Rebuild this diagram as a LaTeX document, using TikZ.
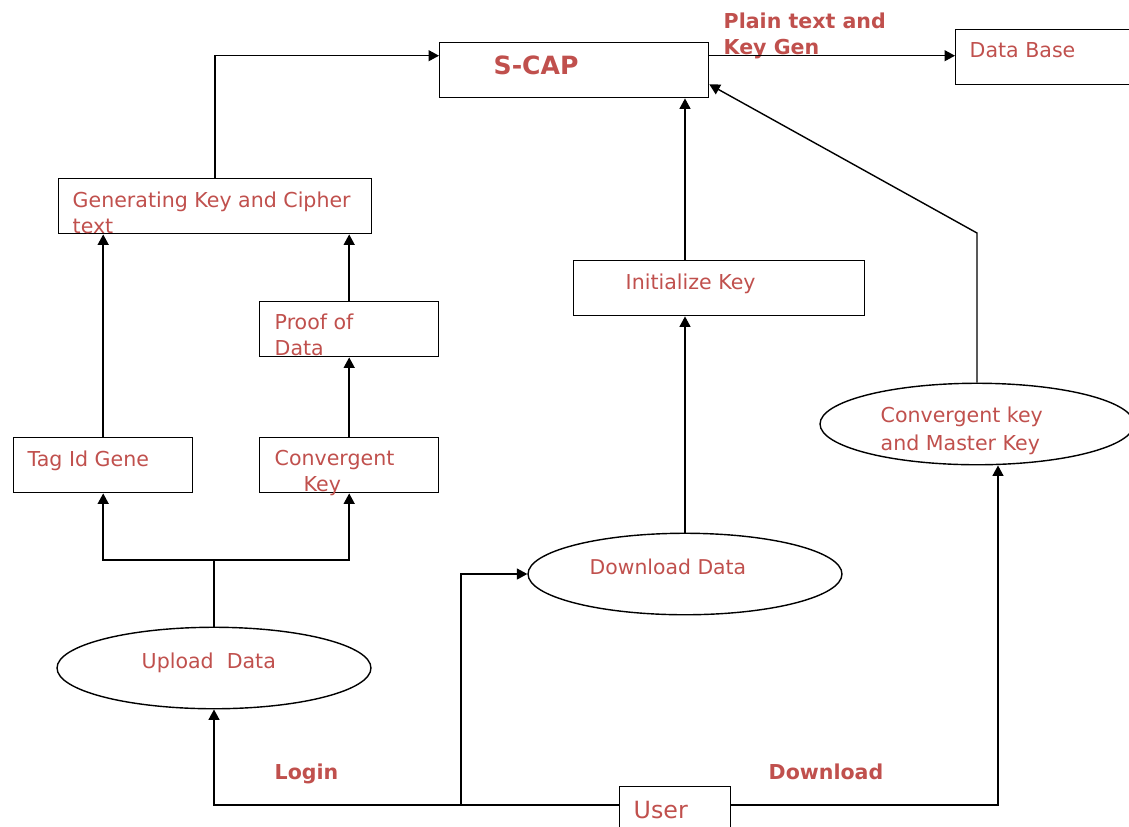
\documentclass[tikz,border=0pt]{standalone}
\usepackage{fontspec}
\setmainfont{DejaVu Sans}
\usetikzlibrary{arrows.meta,shapes.geometric}
\definecolor{txtred}{RGB}{192,80,77}
\begin{document}
\begin{tikzpicture}[x=0.02cm,y=-0.02cm,line width=0.8pt,
  % common options for the boxes:
  block/.style = {draw, rectangle, anchor=north west, inner sep=0,
              minimum height=1.1cm},
  % common options for the ellipses:
  oval/.style = {draw, ellipse, inner sep=0, minimum width=6.28cm,
              minimum height=1.63cm},
  % common options for the texts:
  lbl/.style = {text=txtred, align=left, anchor=base west, inner sep=0,
              font=\fontsize{11.7}{14.8}\selectfont},
  bold/.style = {lbl, font=\fontsize{11.7}{14.8}\selectfont\bfseries},
  >={Triangle[length=2.1mm,width=2.2mm]}]
\useasboundingbox (0,0) rectangle (1129,826);
% boxes
\node[block,minimum width=5.38cm] (scap) at (439,42) {};
\node[block,minimum width=4cm] (db) at (955,29) {};
\node[block,minimum width=6.26cm] (gen) at (58,178) {};
\node[block,minimum width=3.58cm] (proof) at (259,301) {};
\node[block,minimum width=3.58cm] (tag) at (13,437) {};
\node[block,minimum width=3.58cm] (conv) at (259,437) {};
\node[block,minimum width=5.82cm] (init) at (573,260) {};
\node[block,minimum width=2.22cm,minimum height=1.3cm] (user) at (619,786) {};
% ellipses
\node[oval] (upload) at (214,668) {};
\node[oval] (down) at (685,574) {};
\node[oval] (master) at (977,424) {};
% texts (multi-line ones sit on their last line)
\node[bold,font=\fontsize{14.3}{17}\selectfont\bfseries] (scaptxt) at (493,74) {S-CAP};
\node[bold] (plain) at (723,54) {Plain text and\\Key Gen};
\node[lbl] (dbtxt) at (969,57) {Data Base};
\node[lbl] (gentxt) at (72,233) {Generating Key and Cipher\\text};
\node[lbl] (prooftxt) at (274,355) {Proof of\\Data};
\node[lbl] (tagtxt) at (27,466) {Tag Id Gene};
\node[lbl] (convtxt) at (274,491) {Convergent\\\hspace*{0.58cm}Key};
\node[lbl] (inittxt) at (625,289) {Initialize Key};
\node[lbl] (uploadtxt) at (141,668) {Upload\ \ Data};
\node[lbl,font=\fontsize{11.6}{14}\selectfont] (downtxt) at (589,574) {Download Data};
\node[lbl,font=\fontsize{11.7}{15.8}\selectfont] (mastertxt) at (880,450) {Convergent key\\and Master Key};
\node[lbl,font=\fontsize{13.5}{16}\selectfont] (usertxt) at (633,818) {User};
\node[bold] (login) at (274,779) {Login};
\node[bold] (dload) at (768,779) {Download};
% connectors
\coordinate (split) at (214,560);
\coordinate (bend) at (977,233);
\coordinate (fork) at (461,805);
\coordinate (uw) at ([yshift=-0.38cm]user.north west);
\coordinate (ue) at ([yshift=-0.38cm]user.north east);
\draw[->] (gen.north) |- ([yshift=0.29cm]scap.west);
\draw[->] ([yshift=0.29cm]scap.east) -- ([yshift=0.29cm]scap.east -| db.west);
\draw[->] (tag.north) -- (tag.north |- gen.south);
\draw[->] (proof.north) -- (proof.north |- gen.south);
\draw[->] (conv.north) -- (proof.south);
\draw (upload.north) -- (split);
\draw[->] (split) -| (tag.south);
\draw[->] (split) -| (conv.south);
\draw[->] (down.north) -- (down.north |- init.south);
\draw[->] (down.north |- init.north) -- (down.north |- scap.south);
\draw[->] (master.north) -- (bend) -- ([yshift=0.28cm]scap.south east);
\draw[->] (uw) -| (upload.south);
\draw[->] (fork) |- (down.west);
\draw[->] (ue) -| ([xshift=0.42cm]master.south);
\end{tikzpicture}
\end{document}
